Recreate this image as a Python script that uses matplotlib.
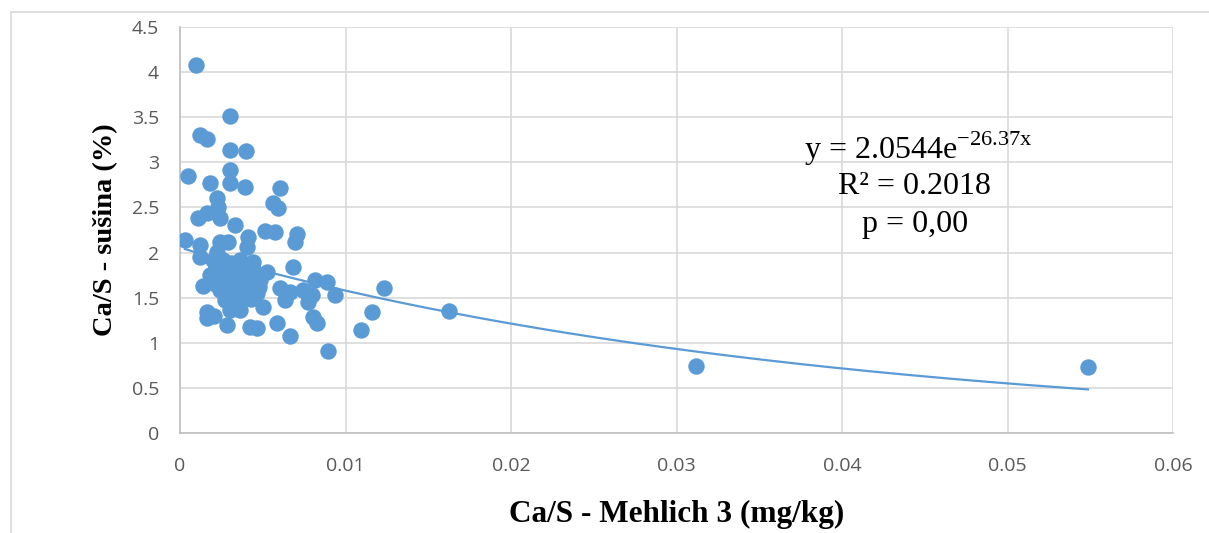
import numpy as np
import matplotlib
matplotlib.use("Agg")
import matplotlib.pyplot as plt
from matplotlib.patches import Rectangle

plt.rcParams['mathtext.fontset'] = 'custom'
plt.rcParams['mathtext.rm'] = 'Liberation Serif'

# Ca/S Mehlich 3 vs. Ca/S in dry matter
mehlich = [0.00097, 0.00302, 0.00121, 0.00163, 0.00302, 0.00399, 0.00048, 0.00302,
           0.00302, 0.00181, 0.00393, 0.00604, 0.00224, 0.00562, 0.00592, 0.00230,
           0.00109, 0.00163, 0.00242, 0.00332, 0.00030, 0.00121, 0.00242, 0.00290,
           0.00411, 0.00405, 0.00514, 0.00574, 0.00707, 0.00695, 0.00121, 0.00224,
           0.00199, 0.00363, 0.00441, 0.00526, 0.00683, 0.00181, 0.00139, 0.00302,
           0.00381, 0.00242, 0.00381, 0.00465, 0.00344, 0.00502, 0.00423, 0.00163,
           0.00163, 0.00284, 0.00423, 0.00465, 0.00586, 0.00665, 0.00604, 0.00665,
           0.00363, 0.00302, 0.00314, 0.00199, 0.00816, 0.00888, 0.00743, 0.00798,
           0.00937, 0.00634, 0.00773, 0.00804, 0.00828, 0.00894, 0.01094, 0.01160,
           0.01233, 0.01625, 0.03118, 0.05486, 0.00441, 0.00254, 0.00332, 0.00405,
           0.00272, 0.00211, 0.00483, 0.00393, 0.00205, 0.00350, 0.00450, 0.00390,
           0.00280, 0.00430, 0.00330, 0.00480, 0.00260, 0.00370, 0.00455, 0.00310]
susina = [4.08, 3.51, 3.30, 3.26, 3.14, 3.13, 2.85, 2.92,
          2.77, 2.77, 2.73, 2.72, 2.61, 2.55, 2.49, 2.51,
          2.38, 2.44, 2.38, 2.31, 2.14, 2.08, 2.12, 2.12,
          2.17, 2.06, 2.24, 2.23, 2.21, 2.12, 1.95, 2.01,
          1.92, 1.92, 1.90, 1.78, 1.84, 1.75, 1.63, 1.78,
          1.86, 1.59, 1.66, 1.55, 1.44, 1.40, 1.51, 1.34,
          1.27, 1.20, 1.18, 1.16, 1.22, 1.08, 1.61, 1.56,
          1.36, 1.36, 1.55, 1.66, 1.70, 1.67, 1.59, 1.53,
          1.53, 1.47, 1.45, 1.29, 1.22, 0.91, 1.14, 1.34,
          1.61, 1.35, 0.74, 0.73, 1.59, 1.86, 1.67, 1.75,
          1.47, 1.81, 1.70, 1.55, 1.30, 1.72, 1.80, 1.62,
          1.70, 1.48, 1.58, 1.62, 1.92, 1.50, 1.66, 1.88]

# exponential trend: y = a * exp(b x)
a_fit = 2.0544
b_fit = -26.37

blue = '#5B9BD5'
grid = '#D9D9D9'
txt = '#595959'

fig = plt.figure(figsize=(12.09, 5.33), dpi=100)
ax = fig.add_axes([180 / 1209, 100 / 533, 993 / 1209, 406 / 533])

# chart frame
fig.patches.append(Rectangle((11 / 1209, -0.1), 1.2, 1.1 - 12 / 533,
                             transform=fig.transFigure, fill=False,
                             edgecolor=grid, linewidth=1.2))

ax.scatter(mehlich, susina, s=140, color=blue, zorder=3, linewidths=0)

xs = np.linspace(min(mehlich), max(mehlich), 200)
ax.plot(xs, a_fit * np.exp(b_fit * xs), color=blue, linewidth=1.6, zorder=2)

ax.set_xlim(0, 0.06)
ax.set_ylim(0, 4.5)
ax.set_xticks(np.arange(0, 0.061, 0.01))
ax.set_xticklabels(['0', '0.01', '0.02', '0.03', '0.04', '0.05', '0.06'])
ax.set_yticks(np.arange(0, 4.51, 0.5))
ax.set_yticklabels(['0', '0.5', '1', '1.5', '2', '2.5', '3', '3.5', '4', '4.5'])
ax.grid(True, color=grid, linewidth=1.2)
ax.set_axisbelow(True)
for s in ['top', 'right']:
    ax.spines[s].set_visible(False)
for s in ['left', 'bottom']:
    ax.spines[s].set_color('#BFBFBF')
    ax.spines[s].set_linewidth(1.2)
ax.tick_params(axis='both', length=0, labelsize=14, labelcolor=txt)
ax.tick_params(axis='y', pad=15)
ax.tick_params(axis='x', pad=17)
for lab in ax.get_xticklabels() + ax.get_yticklabels():
    lab.set_family('Open Sans')

ax.set_xlabel('Ca/S - Mehlich 3 (mg/kg)', family='Liberation Serif', weight='bold',
              fontsize=22.5, labelpad=18)
ax.set_ylabel('Ca/S - sušina (%)', family='Liberation Serif', weight='bold',
              fontsize=20.5, labelpad=10)

eq_kw = dict(family='Liberation Serif', fontsize=23, ha='center', va='center')
ax.text(0.0446, 3.15, r'y = 2.0544e$^{\mathrm{-26.37x}}$', **eq_kw)
ax.text(0.0444, 2.73, 'R² = 0.2018', **eq_kw)
ax.text(0.0444, 2.31, 'p = 0,00', **eq_kw)

fig.savefig('out.png', dpi=100)
